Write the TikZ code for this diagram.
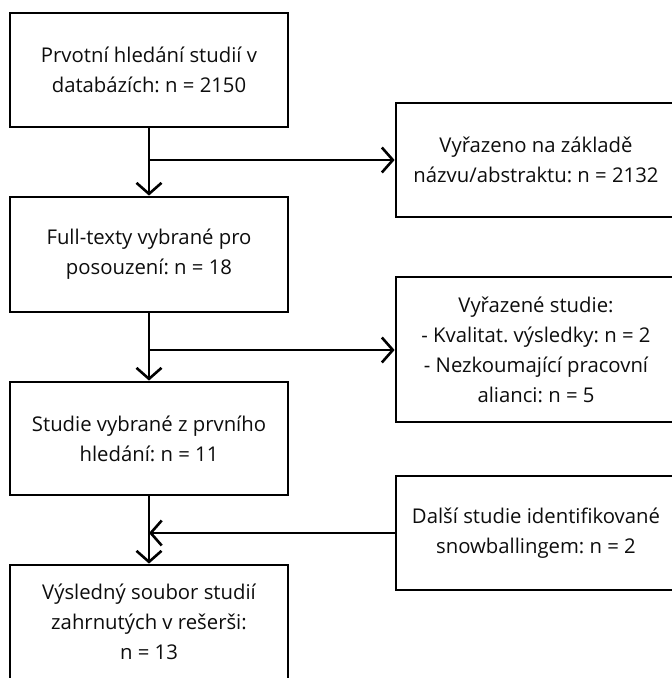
\documentclass[tikz,border=0pt]{standalone}
\usepackage{fontspec}
\setmainfont{Open Sans}
\frenchspacing
\usetikzlibrary{arrows.meta}
\tikzset{
  box/.style={draw=black, line width=2.8pt, fill=white, align=center,
    font=\fontsize{20.3pt}{30pt}\selectfont, text=black!95, inner sep=0pt},
  lbox/.style={box, minimum width=278pt},
  rbox/.style={box, minimum width=280pt},
  conn/.style={line width=2.8pt, draw=black},
  arr/.style={conn, -{Straight Barb[length=11pt,width=25pt,line width=2.6pt]}}
}
\begin{document}
\begin{tikzpicture}[x=1pt,y=-1pt]
\useasboundingbox[fill=white] (0,0) rectangle (672,678);
\node[lbox, minimum height=114pt] (b1) at (149,70) {Prvotní hledání studií v\\databázích: n = 2150};
\node[lbox, minimum height=115pt] (b2) at (149,254.5) {Full-texty vybrané pro\\posouzení: n = 18};
\node[lbox, minimum height=113pt] (b3) at (149,438.5) {Studie vybrané z prvního\\hledání: n = 11};
\node[lbox, minimum height=114pt] (b4) at (149,622) {Výsledný soubor studií\\zahrnutých v rešerši:\\n = 13};
\node[rbox, minimum height=114pt] (r1) at (536,160) {Vyřazeno na základě\\názvu/abstraktu: n = 2132};
\node[rbox, minimum height=145pt] (r2) at (536,349.5) {Vyřazené studie:\\- Kvalitat. výsledky: n = 2\\- Nezkoumající pracovní\\alianci: n = 5};
\node[rbox, minimum height=114pt] (r3) at (536,533) {Další studie identifikované\\snowballingem: n = 2};
\coordinate (j1) at (149,160);
\coordinate (j2) at (149,350);
\coordinate (j3) at (149,533);
\draw[arr] (b1.south) -- (b2.north);
\draw[arr] (j1) -- (r1.west);
\draw[arr] (b2.south) -- (b3.north);
\draw[arr] (j2) -- (r2.west |- j2);
\draw[arr] (b3.south) -- (b4.north);
\draw[arr] (r3.west) -- (j3);
\end{tikzpicture}
\end{document}
